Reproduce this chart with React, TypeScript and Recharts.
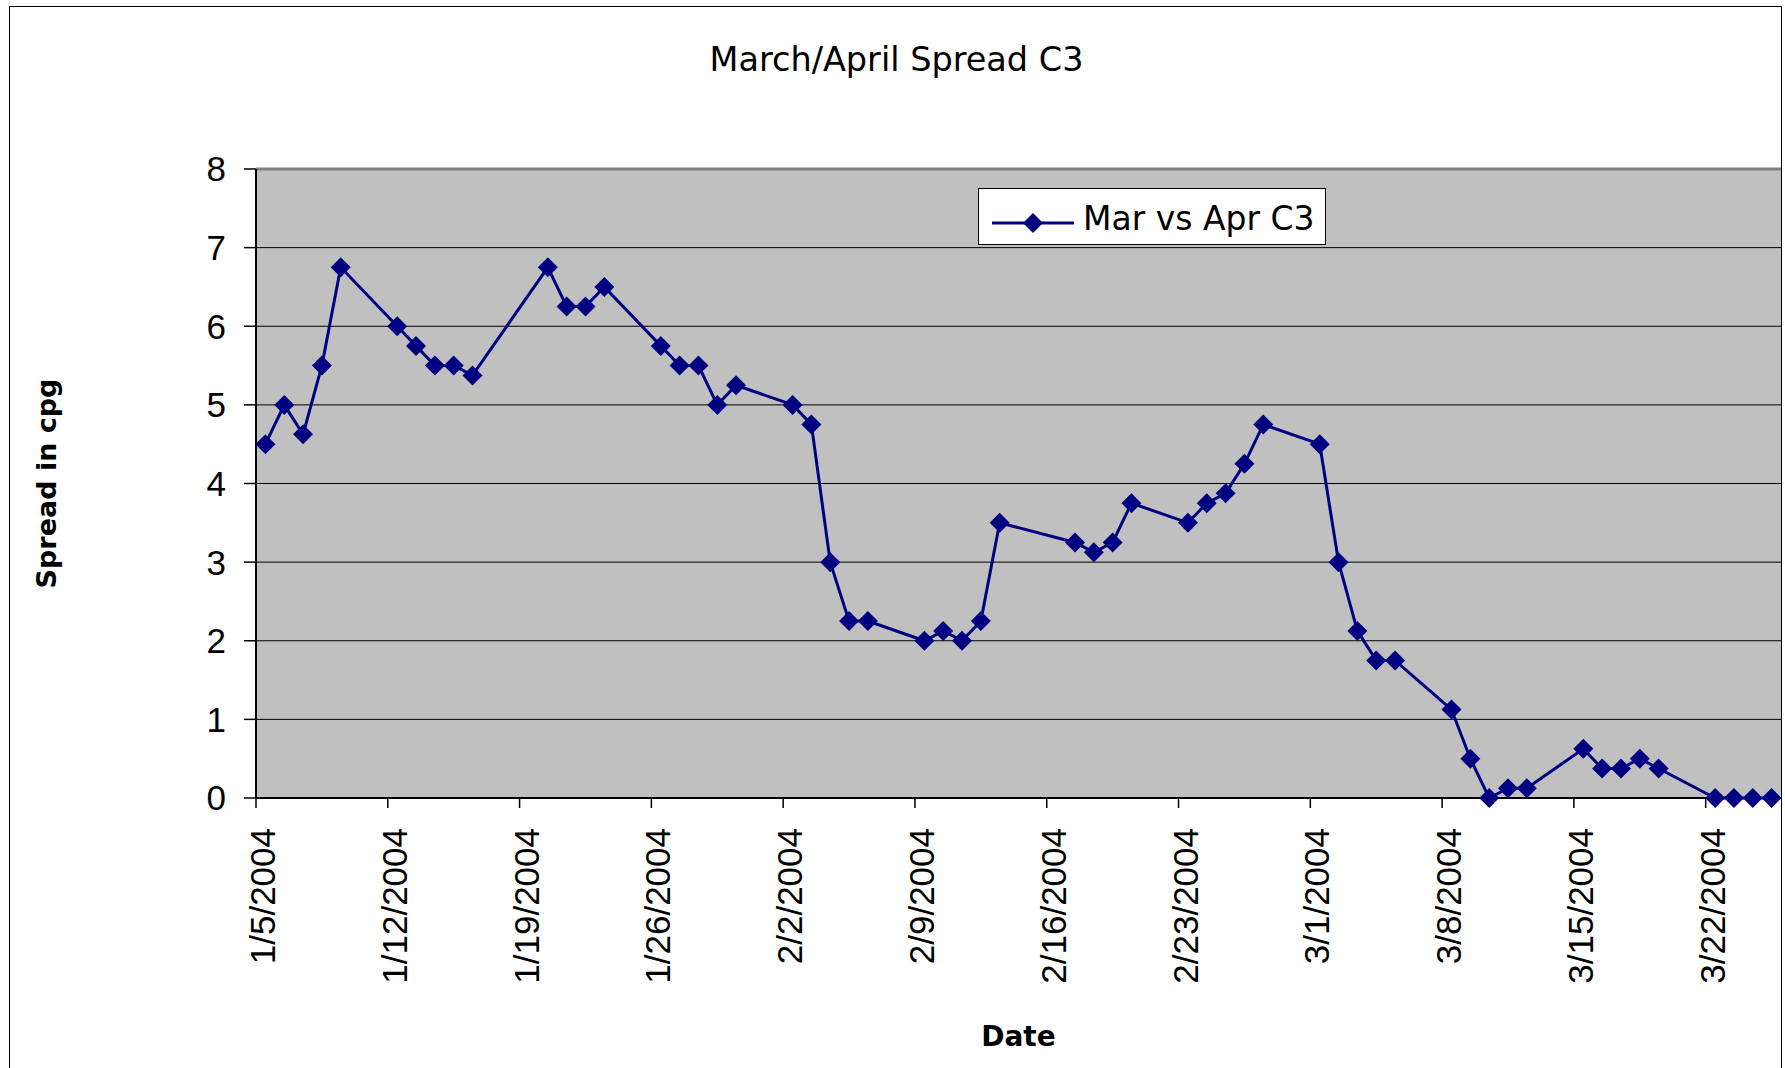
import React from 'react';
import { LineChart, Line, XAxis, YAxis, CartesianGrid, Legend, ReferenceLine } from 'recharts';

// trading days and the Mar/Apr C3 spread (cents per gallon)
const dates = [
  '1/5/2004', '1/6/2004', '1/7/2004', '1/8/2004', '1/9/2004',
  '1/12/2004', '1/13/2004', '1/14/2004', '1/15/2004', '1/16/2004',
  '1/20/2004', '1/21/2004', '1/22/2004', '1/23/2004',
  '1/26/2004', '1/27/2004', '1/28/2004', '1/29/2004', '1/30/2004',
  '2/2/2004', '2/3/2004', '2/4/2004', '2/5/2004', '2/6/2004',
  '2/9/2004', '2/10/2004', '2/11/2004', '2/12/2004', '2/13/2004',
  '2/17/2004', '2/18/2004', '2/19/2004', '2/20/2004',
  '2/23/2004', '2/24/2004', '2/25/2004', '2/26/2004', '2/27/2004',
  '3/1/2004', '3/2/2004', '3/3/2004', '3/4/2004', '3/5/2004',
  '3/8/2004', '3/9/2004', '3/10/2004', '3/11/2004', '3/12/2004',
  '3/15/2004', '3/16/2004', '3/17/2004', '3/18/2004', '3/19/2004',
  '3/22/2004', '3/23/2004', '3/24/2004', '3/25/2004',
];

const spread = [
  4.5, 5.0, 4.625, 5.5, 6.75,
  6.0, 5.75, 5.5, 5.5, 5.375,
  6.75, 6.25, 6.25, 6.5,
  5.75, 5.5, 5.5, 5.0, 5.25,
  5.0, 4.75, 3.0, 2.25, 2.25,
  2.0, 2.125, 2.0, 2.25, 3.5,
  3.25, 3.125, 3.25, 3.75,
  3.5, 3.75, 3.875, 4.25, 4.75,
  4.5, 3.0, 2.125, 1.75, 1.75,
  1.125, 0.5, 0, 0.125, 0.125,
  0.625, 0.375, 0.375, 0.5, 0.375,
  0, 0, 0, 0,
];

const tickLabels = [
  '1/5/2004', '1/12/2004', '1/19/2004', '1/26/2004',
  '2/2/2004', '2/9/2004', '2/16/2004', '2/23/2004',
  '3/1/2004', '3/8/2004', '3/15/2004', '3/22/2004',
];

const yTicks = [0, 1, 2, 3, 4, 5, 6, 7, 8];

const START = Date.UTC(2004, 0, 5);
const dayIndex = (s: string) => {
  const [m, d, y] = s.split('/').map(Number);
  return (Date.UTC(y, m - 1, d) - START) / 86400000;
};

// excel date axis: each day is a slot, the point sits in the middle of it
const data = dates.map((d, i) => ({ x: dayIndex(d) + 0.5, date: d, value: spread[i] }));
const xTicks = tickLabels.map(dayIndex);

const NAVY = '#000080';
const TICK_FONT = '"Liberation Sans", Arial, sans-serif';
const TITLE_FONT = '"DejaVu Sans", Verdana, sans-serif';

const Diamond = (props: any) => {
  const { cx, cy } = props;
  if (cx == null || cy == null) return null;
  const r = 10;
  return (
    <path
      d={`M${cx},${cy - r}L${cx + r},${cy}L${cx},${cy + r}L${cx - r},${cy}Z`}
      fill={NAVY}
    />
  );
};

const DateTick = (props: any) => {
  const { x, y, payload } = props;
  const label = tickLabels[xTicks.indexOf(payload.value)];
  return (
    <text
      transform={`translate(${x + 19},${y + 20}) rotate(-90)`}
      textAnchor="end"
      fontSize={35}
      fontFamily={TICK_FONT}
      fill="#000"
    >
      {label}
    </text>
  );
};

const LegendBox = () => (
  <div
    style={{
      width: 346,
      height: 55,
      background: '#fff',
      border: '1px solid #000',
      display: 'flex',
      alignItems: 'center',
    }}
  >
    <svg width={104} height={55}>
      <line x1={13} x2={95} y1={34} y2={34} stroke={NAVY} strokeWidth={3} />
      <path d="M54,24L64,34L54,44L44,34Z" fill={NAVY} />
    </svg>
    <span style={{ fontFamily: TITLE_FONT, fontSize: 33, color: '#000', marginTop: 4 }}>
      Mar vs Apr C3
    </span>
  </div>
);

export default function App() {
  return (
    <div
      style={{
        position: 'absolute',
        left: 0,
        top: 0,
        width: 1785,
        height: 1068,
        overflow: 'hidden',
        background: '#fff',
      }}
    >
      <div
        style={{
          position: 'absolute',
          left: 9,
          top: 6,
          width: 1771,
          height: 1200,
          border: '1px solid #000',
        }}
      />
      <div
        style={{
          position: 'absolute',
          left: 4,
          width: 1785,
          top: 40,
          textAlign: 'center',
          fontFamily: TITLE_FONT,
          fontSize: 33.5,
          lineHeight: '40px',
          color: '#000',
        }}
      >
        March/April Spread C3
      </div>
      <div style={{ position: 'absolute', left: 0, top: 0 }}>
        <LineChart
          width={1785}
          height={1068}
          data={data}
          margin={{ top: 169, right: 4, bottom: 0, left: 0 }}
        >
          <CartesianGrid
            vertical={false}
            horizontalValues={yTicks}
            stroke="#000"
            strokeWidth={1}
            fill="#C0C0C0"
            fillOpacity={1}
          />
          <ReferenceLine y={8} stroke="#808080" strokeWidth={3} />
          <XAxis
            type="number"
            dataKey="x"
            domain={[0, 81]}
            ticks={xTicks}
            interval={0}
            height={270}
            tickSize={10}
            tickMargin={0}
            tick={<DateTick />}
            axisLine={{ stroke: '#000', strokeWidth: 2 }}
            tickLine={{ stroke: '#000', strokeWidth: 1.5 }}
            allowDataOverflow
            label={{
              value: 'Date',
              position: 'insideBottom',
              offset: 22,
              fontFamily: TITLE_FONT,
              fontWeight: 'bold',
              fontSize: 28,
              fill: '#000',
            }}
          />
          <YAxis
            type="number"
            domain={[0, 8]}
            ticks={yTicks}
            interval={0}
            width={256}
            tickSize={12}
            tickMargin={18}
            tick={{ fontSize: 35, fontFamily: TICK_FONT, fill: '#000' }}
            axisLine={{ stroke: '#000', strokeWidth: 2 }}
            tickLine={{ stroke: '#000', strokeWidth: 1.5 }}
            label={{
              value: 'Spread in cpg',
              angle: -90,
              position: 'insideLeft',
              offset: 46,
              textAnchor: 'middle',
              fontFamily: TITLE_FONT,
              fontWeight: 'bold',
              fontSize: 27,
              fill: '#000',
            }}
          />
          <Legend
            layout="horizontal"
            verticalAlign="middle"
            align="center"
            content={<LegendBox />}
            wrapperStyle={{ position: 'absolute', left: 978, top: 188, width: 348, height: 57 }}
          />
          <Line
            type="linear"
            dataKey="value"
            name="Mar vs Apr C3"
            stroke={NAVY}
            strokeWidth={3}
            dot={<Diamond />}
            activeDot={false}
            isAnimationActive={false}
          />
        </LineChart>
      </div>
    </div>
  );
}
